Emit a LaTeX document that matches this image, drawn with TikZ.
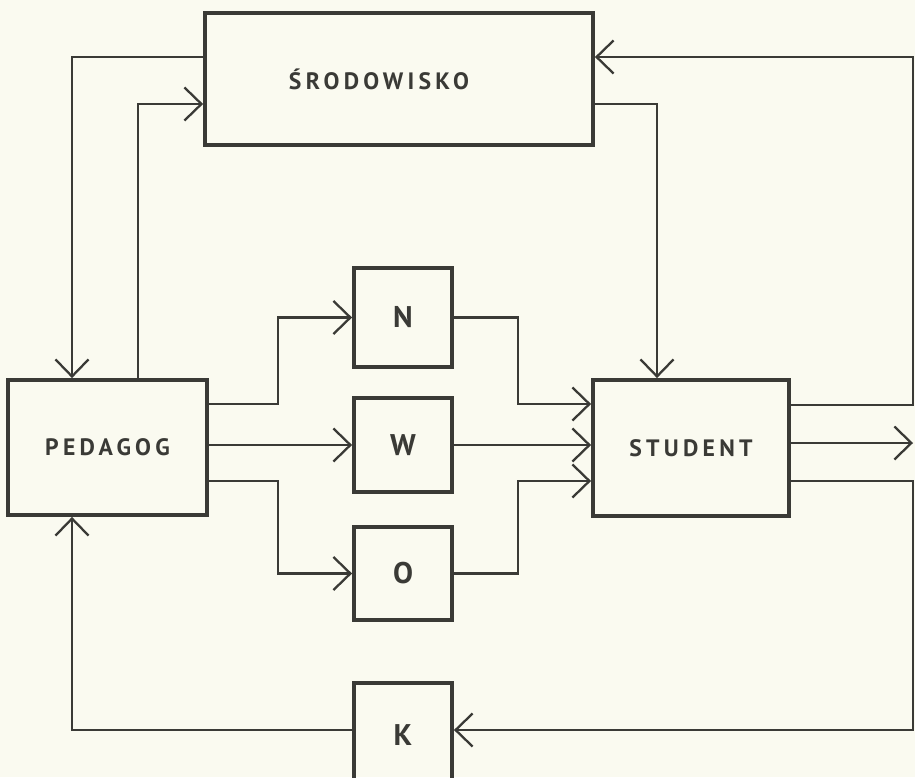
\documentclass[tikz,border=0pt]{standalone}
\usepackage{fontspec}
\setmainfont{PT Sans}[LetterSpace=18]
\usetikzlibrary{arrows.meta}
\definecolor{paper}{RGB}{250,250,240}
\definecolor{ink}{RGB}{58,58,54}
\begin{document}
\begin{tikzpicture}[x=0.02cm,y=-0.02cm,
  box/.style={draw=ink,line width=2.2pt,inner sep=0pt,text=ink},
  bigbox/.style={box,font=\fontsize{13.5}{15}\selectfont\bfseries},
  letbox/.style={box,minimum width=1.96cm,font=\fontsize{17}{19}\selectfont\bfseries},
  conn/.style={draw=ink,line width=1.4pt},
  arr/.style={conn,-{Straight Barb[length=0.34cm,width=0.66cm,line width=1.3pt]}}]
\fill[paper] (0,0) rectangle (915,777);
\useasboundingbox (0,0) rectangle (915,777);

\node[bigbox,minimum width=7.76cm,minimum height=2.64cm] (env) at (399,79) {ŚRODOWISKO\hspace*{0.8cm}};
\node[bigbox,minimum width=3.98cm,minimum height=2.7cm] (ped) at (107.5,447.5) {PEDAGOG};
\node[bigbox,minimum width=3.92cm,minimum height=2.72cm] (stu) at (691,448) {STUDENT};
\node[letbox,minimum height=1.98cm] (n) at (403,317.5) {N};
\node[letbox,minimum height=1.88cm] (w) at (403,445) {W};
\node[letbox,minimum height=1.86cm] (o) at (403,573.5) {O};
\node[letbox,minimum height=2.08cm] (k) at (403,735) {K};

\coordinate (Rtop) at (913,57);
\coordinate (Rmid) at (913,443);
\coordinate (Rbot) at (913,730);

% environment loops
\draw[arr] (env.west |- 0,57) -| (ped.north -| 72,0);
\draw[arr] (ped.north -| 138,0) |- (env.west |- 0,104);
\draw[arr] (env.east |- 0,104) -| (stu.north -| 657,0);

% pedagog to N, W, O
\draw[arr] (ped.east |- 0,404) -- (278,404) |- (n.west);
\draw[arr] (ped.east |- w.west) -- (w.west);
\draw[arr] (ped.east |- 0,481) -- (278,481) |- (o.west);

% N, W, O to student
\draw[arr] (n.east) -- (518,317.5) |- (stu.west |- 0,404);
\draw[arr] (w.east) -- (stu.west |- w.east);
\draw[arr] (o.east) -- (518,573.5) |- (stu.west |- 0,481);

% student outputs
\draw[arr] (stu.east |- 0,405) -| (Rtop) -- (env.east |- Rtop);
\draw[arr] (stu.east |- Rmid) -- (Rmid);
\draw[arr] (stu.east |- 0,481) -| (Rbot) -- (k.east |- Rbot);

% K feedback
\draw[arr] (k.west |- Rbot) -| (ped.south -| 72,0);
\end{tikzpicture}
\end{document}
